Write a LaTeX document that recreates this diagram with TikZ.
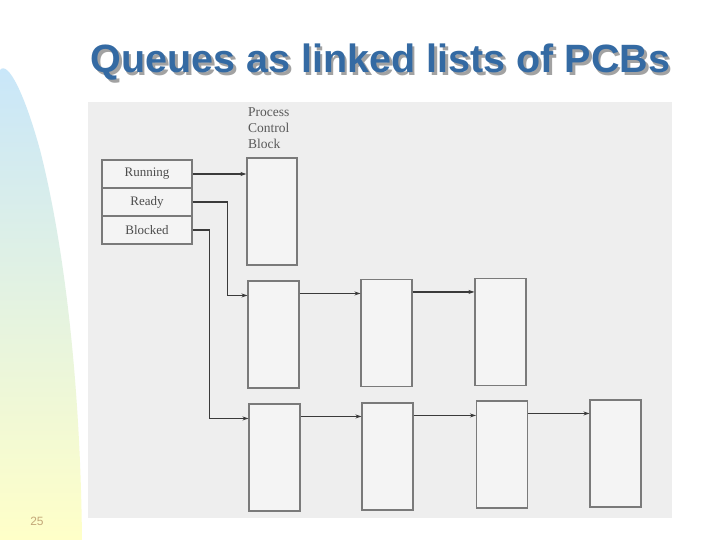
\documentclass[tikz,border=0pt]{standalone}
\usepackage{fontspec}
\setmainfont{Liberation Serif}
\newfontfamily\titlefont{Liberation Sans}
\usetikzlibrary{arrows.meta}
\definecolor{titleblue}{HTML}{346AA3}
\definecolor{titleshade}{HTML}{A2A2A2}
\definecolor{scanbg}{HTML}{EEEEEE}
\definecolor{boxfill}{HTML}{F4F4F4}
\definecolor{boxline}{HTML}{7A7A7A}
\definecolor{linegray}{HTML}{3A3A3A}
\definecolor{pagenum}{HTML}{C4A878}
\definecolor{bandtop}{HTML}{C8E6FA}
\definecolor{bandmid}{HTML}{E2F4E6}
\definecolor{bandbot}{HTML}{FFFFC8}
\newcommand{\titletext}{Queues as linked lists of PCBs}
\tikzset{
  pcbbox/.style={draw=boxline, line width=1.1pt, fill=boxfill, minimum width=51pt, minimum height=107pt, inner sep=0pt},
  tabrow/.style={draw=boxline, line width=1.1pt, fill=boxfill, minimum width=90pt, minimum height=28pt, inner sep=0pt, font=\fontsize{13}{15}\selectfont, text=black!70},
  arr/.style={draw=linegray, line width=1.2pt, -{Stealth[length=6pt,width=4pt]}},
}
\begin{document}
\begin{tikzpicture}[x=1pt,y=-1pt]
\useasboundingbox (0,0) rectangle (720,540);
\fill[white] (0,0) rectangle (720,540);
% left decorative band
\shade[top color=bandtop, middle color=bandmid, bottom color=bandbot]
  (0,540) -- (0,70) .. controls (8,60) and (25,95) .. (40,150)
  .. controls (58,220) and (80,350) .. (82,540) -- cycle;
% scanned page area
\fill[scanbg] (88,102) rectangle (672,518);
% title with drop shadow (one text node)
\node[anchor=base, text=titleblue, font=\titlefont\bfseries\fontsize{39.5}{44}\selectfont] (title) at (380.5,73)
  {\makebox[0pt][l]{\hspace{2.5pt}\raisebox{-2.5pt}{\textcolor{titleshade}{\titletext}}}\titletext};
% page number
\node[text=pagenum, font=\titlefont\fontsize{12}{14}\selectfont] (pnum) at (37,521) {25};
% state table
\node[tabrow] (running) at (147,174) {Running};
\node[tabrow] (ready) at (147,202) {Ready};
\node[tabrow] (blocked) at (147,230) {Blocked};
% PCB label and box
\node[anchor=north west, align=left, inner sep=0pt, text=black!65, font=\fontsize{13.5}{16}\selectfont] (pcblabel) at (248,107) {Process\\Control\\Block};
\node[pcbbox, minimum width=50pt] (pcb) at (272,211.5) {};
% ready queue
\node[pcbbox] (r1) at (273.5,334.5) {};
\node[pcbbox] (r2) at (386.5,333) {};
\node[pcbbox] (r3) at (500.5,332) {};
% blocked queue
\node[pcbbox] (b1) at (274.5,457.5) {};
\node[pcbbox] (b2) at (387.5,456.5) {};
\node[pcbbox] (b3) at (502,454.5) {};
\node[pcbbox] (b4) at (615.5,453.5) {};
% connectors
\draw[arr] (running.east) -- (running.east -| pcb.west);
\draw[arr] (ready.east) -- ++(35,0) |- ([yshift=-15pt]r1.north west);
\draw[arr] (blocked.east) -- ++(17,0) |- ([yshift=-15pt]b1.north west);
\draw[arr] ([yshift=-13pt]r1.north east) -- ([yshift=-13pt]r1.north east -| r2.west);
\draw[arr] ([yshift=-13pt]r2.north east) -- ([yshift=-13pt]r2.north east -| r3.west);
\draw[arr] ([yshift=-13pt]b1.north east) -- ([yshift=-13pt]b1.north east -| b2.west);
\draw[arr] ([yshift=-13pt]b2.north east) -- ([yshift=-13pt]b2.north east -| b3.west);
\draw[arr] ([yshift=-13pt]b3.north east) -- ([yshift=-13pt]b3.north east -| b4.west);
\end{tikzpicture}
\end{document}
